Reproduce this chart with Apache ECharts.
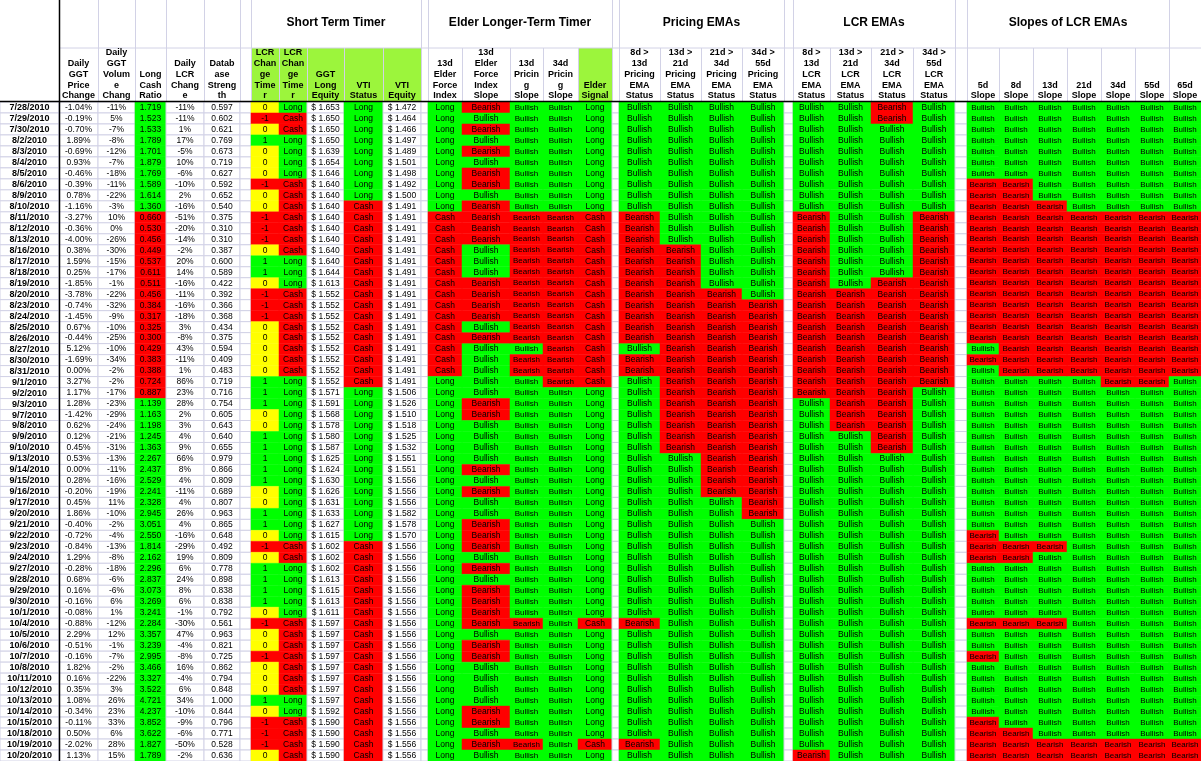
<!DOCTYPE html>
<html>
<head>
<meta charset="utf-8">
<script src="https://cdn.jsdelivr.net/npm/echarts@6/dist/echarts.min.js"></script>
<style>html,body{margin:0;padding:0;background:#fff}#chart{width:1201px;height:761px}</style>
</head>
<body>
<div id="chart"></div>
<script>
const dates = ['7/28/2010','7/29/2010','7/30/2010','8/2/2010','8/3/2010','8/4/2010','8/5/2010','8/6/2010','8/9/2010','8/10/2010',
  '8/11/2010','8/12/2010','8/13/2010','8/16/2010','8/17/2010','8/18/2010','8/19/2010','8/20/2010','8/23/2010','8/24/2010',
  '8/25/2010','8/26/2010','8/27/2010','8/30/2010','8/31/2010','9/1/2010','9/2/2010','9/3/2010','9/7/2010','9/8/2010',
  '9/9/2010','9/10/2010','9/13/2010','9/14/2010','9/15/2010','9/16/2010','9/17/2010','9/20/2010','9/21/2010','9/22/2010',
  '9/23/2010','9/24/2010','9/27/2010','9/28/2010','9/29/2010','9/30/2010','10/1/2010','10/4/2010','10/5/2010','10/6/2010',
  '10/7/2010','10/8/2010','10/11/2010','10/12/2010','10/13/2010','10/14/2010','10/15/2010','10/18/2010','10/19/2010','10/20/2010'];

const priceChg = [-1.04,-0.19,-0.70,1.89,-0.69,0.93,-0.46,-0.39,0.78,-1.16,-3.27,-0.36,-4.00,0.38,1.59,
  0.25,-1.85,-3.78,-0.74,-1.45,0.67,-0.44,5.12,-1.69,0.00,3.27,1.17,1.28,-1.42,0.62,
  0.12,0.45,0.53,0.00,0.28,-0.20,0.45,1.86,-0.40,-0.72,-0.84,1.29,-0.28,0.68,0.16,
  -0.16,-0.08,-0.88,2.29,-0.51,-0.16,1.82,0.16,0.35,1.08,-0.34,-0.11,0.50,-2.02,1.13];
const volChg = [-11,5,-7,-8,-12,-7,-18,-11,-22,-3,10,0,-26,-30,-15,
  -17,-1,-22,-32,-9,-10,-25,-10,-34,-2,-2,-17,-23,-29,-24,
  -21,-31,-13,-11,-16,-19,11,-10,-2,-4,-13,-8,-18,-6,-6,
  6,1,-12,12,-1,-7,-2,-22,3,26,23,33,6,28,15];
const lcr = [1.719,1.523,1.533,1.789,1.701,1.879,1.769,1.589,1.614,1.360,0.660,0.530,0.456,0.449,0.537,
  0.611,0.511,0.456,0.384,0.317,0.325,0.300,0.429,0.383,0.388,0.724,0.887,1.139,1.163,1.198,
  1.245,1.363,2.267,2.437,2.529,2.241,2.328,2.945,3.051,2.550,1.814,2.162,2.296,2.837,3.073,
  3.269,3.241,2.284,3.357,3.239,2.995,3.466,3.327,3.522,4.721,4.237,3.852,3.622,1.827,1.789];
const lcrChg = [-11,-11,1,17,-5,10,-6,-10,2,-16,-51,-20,-14,-2,20,
  14,-16,-11,-16,-18,3,-8,43,-11,1,86,23,28,2,3,
  4,9,66,8,4,-11,4,26,4,-16,-29,19,6,24,8,
  6,-1,-30,47,-4,-8,16,-4,6,34,-10,-9,-6,-50,-2];
const dbStrength = [0.597,0.602,0.621,0.769,0.673,0.719,0.627,0.592,0.652,0.540,0.375,0.310,0.310,0.387,0.600,
  0.589,0.422,0.392,0.366,0.368,0.434,0.375,0.594,0.409,0.483,0.719,0.716,0.754,0.605,0.643,
  0.640,0.655,0.979,0.866,0.809,0.689,0.807,0.963,0.865,0.648,0.492,0.809,0.778,0.898,0.838,
  0.838,0.792,0.561,0.963,0.821,0.725,0.862,0.794,0.848,1.000,0.844,0.796,0.771,0.528,0.636];
const timer = [0,-1,0,1,0,0,0,-1,0,0,-1,-1,-1,0,1,
  1,0,-1,-1,-1,0,0,0,0,0,1,1,1,0,0,
  1,1,1,1,1,0,0,1,1,0,-1,0,1,1,1,
  1,0,-1,0,0,-1,0,0,0,1,0,-1,-1,-1,0];
const timerStatus = '100111100000001' + '110000000011111' + '111111111100111' + '110000000110000';
const ggtEquity = [1.653,1.650,1.650,1.650,1.639,1.654,1.646,1.640,1.640,1.640,1.640,1.640,1.640,1.640,1.640,
  1.644,1.613,1.552,1.552,1.552,1.552,1.552,1.552,1.552,1.552,1.552,1.571,1.591,1.568,1.578,
  1.580,1.587,1.625,1.624,1.630,1.626,1.631,1.633,1.627,1.615,1.602,1.602,1.602,1.613,1.615,
  1.613,1.611,1.597,1.597,1.597,1.597,1.597,1.597,1.597,1.597,1.592,1.590,1.590,1.590,1.590];
const vtiStatus = '111111111' + '00000000000000000' + '11111111111111' + '00000000000000000000';
const vtiEquity = [1.472,1.464,1.466,1.497,1.489,1.501,1.498,1.492,1.500,1.491,1.491,1.491,1.491,1.491,1.491,
  1.491,1.491,1.491,1.491,1.491,1.491,1.491,1.491,1.491,1.491,1.491,1.506,1.526,1.510,1.518,
  1.525,1.532,1.551,1.551,1.556,1.556,1.556,1.582,1.578,1.570,1.556,1.556,1.556,1.556,1.556,
  1.556,1.556,1.556,1.556,1.556,1.556,1.556,1.556,1.556,1.556,1.556,1.556,1.556,1.556,1.556];

// 1 = Bullish / Long (green), 0 = Bearish / Cash (red)
const elderForce   = '1111111111' + '000000000000000' + '11111111111111111111111111111111111';
const elderSlope   = '010101001000011' + '10000101111100' + '111101011000101' + '0000100111100101';
const pricing13    = '1111111111' + '000000000000' + '1' + '00' + '1111111111111111111111' + '0' + '1111111111' + '0' + '1';
const pricing34    = '1111111111' + '0000000000000000' + '1111111111111111111111111111111111';
const elderSignal  = '1111111111' + '0000000000000000' + '111111111111111111111' + '0' + '1111111111' + '0' + '1';
const pEma8_13     = pricing13;
const pEma13_21    = '1111111111111' + '0000000000000000000' + '1111111111111111111111111111';
const pEma21_34    = '11111111111111111' + '0000000000000000000' + '111111111111111111111111';
const pEma34_55    = '111111111111111111' + '00000000000000000000' + '1111111111111111111111';
const lEma8_13     = '1111111111' + '00000000000000000' + '11111111111111111111111111111111' + '0';
const lEma13_21    = '11111111111111111' + '0000000000000' + '111111111111111111111111111111';
const lEma21_34    = '00' + '11111111111111' + '0000000000000000' + '1111111111111111111111111111';
const lEma34_55    = '1111111111' + '0000000000000000' + '1111111111111111111111111111111111';
const slope5  = '1111111' + '000000000000000' + '1' + '0' + '111111111111111' + '000' + '11111' + '0' + '11' + '0' + '11111' + '0000';
const slope8  = '1111111' + '000000000000000000' + '111111111111111' + '00' + '11111' + '0' + '111111111' + '000';
const slope13 = '111111111' + '0000000000000000' + '111111111111111' + '0' + '111111' + '0' + '1111111111' + '00';
const slope21 = '1111111111' + '000000000000000' + '111111111111111111111111111111111' + '00';
const slope34 = '1111111111' + '0000000000000000' + '11111111111111111111111111111111' + '00';
const slope55 = slope34;
const slope65 = slope21;

const GREEN = '#00ff00', RED = '#ff0000', YELLOW = '#ffff00', WHITE = '#ffffff', GRIDC = '#d2d2e6';
const FONT = '8.5px "Liberation Sans", Arial, sans-serif';
const SMALL = '8px "Liberation Sans", Arial, sans-serif';
const BOLD = 'bold 9px "Liberation Sans", Arial, sans-serif';

function flagCol(str, yes, no) {
  return i => str[i] === '1' ? [yes, GREEN] : [no, RED];
}
const columns = [
  { x0: 0, x1: 59, cell: i => [dates[i], WHITE], font: BOLD },
  { x0: 59, x1: 98, cell: i => [priceChg[i].toFixed(2) + '%', WHITE] },
  { x0: 98, x1: 135, cell: i => [volChg[i] + '%', WHITE] },
  { x0: 135, x1: 166, cell: i => [lcr[i].toFixed(3), lcr[i] >= 1 ? GREEN : RED] },
  { x0: 166, x1: 204, cell: i => [lcrChg[i] + '%', WHITE] },
  { x0: 204, x1: 240, cell: i => [dbStrength[i].toFixed(3), WHITE] },
  { x0: 240, x1: 251, cell: () => ['', WHITE] },
  { x0: 251, x1: 279, cell: i => [String(timer[i]), timer[i] > 0 ? GREEN : timer[i] < 0 ? RED : YELLOW] },
  { x0: 279, x1: 307, cell: flagCol(timerStatus, 'Long', 'Cash') },
  { x0: 307, x1: 344, cell: i => ['$ ' + ggtEquity[i].toFixed(3), WHITE] },
  { x0: 344, x1: 383, cell: flagCol(vtiStatus, 'Long', 'Cash') },
  { x0: 383, x1: 421, cell: i => ['$ ' + vtiEquity[i].toFixed(3), WHITE] },
  { x0: 421, x1: 428, cell: () => ['', WHITE] },
  { x0: 428, x1: 462, cell: flagCol(elderForce, 'Long', 'Cash') },
  { x0: 462, x1: 510, cell: flagCol(elderSlope, 'Bullish', 'Bearish') },
  { x0: 510, x1: 543, cell: flagCol(pricing13, 'Bullish', 'Bearish'), font: SMALL },
  { x0: 543, x1: 578, cell: flagCol(pricing34, 'Bullish', 'Bearish'), font: SMALL },
  { x0: 578, x1: 612, cell: flagCol(elderSignal, 'Long', 'Cash') },
  { x0: 612, x1: 619, cell: () => ['', WHITE] },
  { x0: 619, x1: 660, cell: flagCol(pEma8_13, 'Bullish', 'Bearish') },
  { x0: 660, x1: 701, cell: flagCol(pEma13_21, 'Bullish', 'Bearish') },
  { x0: 701, x1: 742, cell: flagCol(pEma21_34, 'Bullish', 'Bearish') },
  { x0: 742, x1: 784, cell: flagCol(pEma34_55, 'Bullish', 'Bearish') },
  { x0: 784, x1: 793, cell: () => ['', WHITE] },
  { x0: 793, x1: 830, cell: flagCol(lEma8_13, 'Bullish', 'Bearish') },
  { x0: 830, x1: 871, cell: flagCol(lEma13_21, 'Bullish', 'Bearish') },
  { x0: 871, x1: 913, cell: flagCol(lEma21_34, 'Bullish', 'Bearish') },
  { x0: 913, x1: 955, cell: flagCol(lEma34_55, 'Bullish', 'Bearish') },
  { x0: 955, x1: 967, cell: () => ['', WHITE] },
  { x0: 967, x1: 999, cell: flagCol(slope5, 'Bullish', 'Bearish'), font: SMALL },
  { x0: 999, x1: 1033, cell: flagCol(slope8, 'Bullish', 'Bearish'), font: SMALL },
  { x0: 1033, x1: 1067, cell: flagCol(slope13, 'Bullish', 'Bearish'), font: SMALL },
  { x0: 1067, x1: 1101, cell: flagCol(slope21, 'Bullish', 'Bearish'), font: SMALL },
  { x0: 1101, x1: 1135, cell: flagCol(slope34, 'Bullish', 'Bearish'), font: SMALL },
  { x0: 1135, x1: 1169, cell: flagCol(slope55, 'Bullish', 'Bearish'), font: SMALL },
  { x0: 1169, x1: 1201, cell: flagCol(slope65, 'Bullish', 'Bearish'), font: SMALL }
];

const cells = [];
columns.forEach(col => {
  dates.forEach((d, i) => {
    const [text, fill] = col.cell(i);
    cells.push({ value: [col.x0, col.x1, i], text, fill, font: col.font || FONT });
  });
});

// header texts
const headers = [
  [59, 98, ['Daily', 'GGT', 'Price', 'Change']],
  [98, 135, ['Daily', 'GGT', 'Volum', 'e', 'Chang']],
  [135, 166, ['Long', 'Cash', 'Ratio']],
  [166, 204, ['Daily', 'LCR', 'Chang', 'e']],
  [204, 240, ['Datab', 'ase', 'Streng', 'th']],
  [251, 279, ['LCR', 'Chan', 'ge', 'Time', 'r']],
  [279, 307, ['LCR', 'Chan', 'ge', 'Time', 'r']],
  [307, 344, ['GGT', 'Long', 'Equity']],
  [344, 383, ['VTI', 'Status']],
  [383, 421, ['VTI', 'Equity']],
  [428, 462, ['13d', 'Elder', 'Force', 'Index']],
  [462, 510, ['13d', 'Elder', 'Force', 'Index', 'Slope']],
  [510, 543, ['13d', 'Pricin', 'g', 'Slope']],
  [543, 578, ['34d', 'Pricin', 'g', 'Slope']],
  [578, 612, ['Elder', 'Signal']],
  [619, 660, ['8d >', '13d', 'Pricing', 'EMA', 'Status']],
  [660, 701, ['13d >', '21d', 'Pricing', 'EMA', 'Status']],
  [701, 742, ['21d >', '34d', 'Pricing', 'EMA', 'Status']],
  [742, 784, ['34d >', '55d', 'Pricing', 'EMA', 'Status']],
  [793, 830, ['8d >', '13d', 'LCR', 'EMA', 'Status']],
  [830, 871, ['13d >', '21d', 'LCR', 'EMA', 'Status']],
  [871, 913, ['21d >', '34d', 'LCR', 'EMA', 'Status']],
  [913, 955, ['34d >', '55d', 'LCR', 'EMA', 'Status']],
  [967, 999, ['5d', 'Slope']],
  [999, 1033, ['8d', 'Slope']],
  [1033, 1067, ['13d', 'Slope']],
  [1067, 1101, ['21d', 'Slope']],
  [1101, 1135, ['34d', 'Slope']],
  [1135, 1169, ['55d', 'Slope']],
  [1169, 1201, ['65d', 'Slope']]
];
const groups = [
  ['Short Term Timer', 251, 421],
  ['Elder Longer-Term Timer', 428, 612],
  ['Pricing EMAs', 619, 784],
  ['LCR EMAs', 793, 955],
  ['Slopes of LCR EMAs', 967, 1169]
];

const graphics = [];
graphics.push({ type: 'rect', shape: { x: 251, y: 48, width: 170, height: 53 }, style: { fill: '#9cf53c' } });
graphics.push({ type: 'rect', shape: { x: 578, y: 48, width: 34, height: 53 }, style: { fill: '#9cf53c' } });
graphics.push({ type: 'line', shape: { x1: 59, y1: 48, x2: 1201, y2: 48 }, style: { stroke: GRIDC } });
const vlines = [98, 135, 166, 204, 240, 251, 279, 307, 344, 383, 421, 428, 462, 510, 543, 578, 612, 619, 660, 701, 742, 784, 793, 830, 871, 913, 955, 967, 999, 1033, 1067, 1101, 1135, 1169];
const topLines = [98, 135, 166, 204, 240, 251, 421, 428, 612, 619, 784, 793, 955, 967, 1169];
vlines.forEach(x => graphics.push({ type: 'line', shape: { x1: x + 0.5, y1: 48, x2: x + 0.5, y2: 101 }, style: { stroke: GRIDC } }));
topLines.forEach(x => graphics.push({ type: 'line', shape: { x1: x + 0.5, y1: 0, x2: x + 0.5, y2: 48 }, style: { stroke: GRIDC } }));
headers.forEach(([x0, x1, lines]) => {
  lines.forEach((t, k) => {
    graphics.push({ type: 'text', x: (x0 + x1) / 2, y: 96 - (lines.length - 1 - k) * 10.8,
      style: { text: t, font: BOLD, fill: '#000', align: 'center', verticalAlign: 'middle' } });
  });
});
groups.forEach(([t, x0, x1]) => {
  graphics.push({ type: 'text', x: (x0 + x1) / 2, y: 23,
    style: { text: t, font: 'bold 12px "Liberation Sans", Arial, sans-serif', fill: '#000', align: 'center', verticalAlign: 'middle' } });
});
graphics.push({ type: 'line', shape: { x1: 0, y1: 101.5, x2: 1201, y2: 101.5 }, style: { stroke: '#000', lineWidth: 1.5 }, z: 100 });
graphics.push({ type: 'line', shape: { x1: 59.5, y1: 0, x2: 59.5, y2: 761 }, style: { stroke: '#000', lineWidth: 1.5 }, z: 100 });

const chart = echarts.init(document.getElementById('chart'));
chart.setOption({
  animation: false,
  grid: { left: 0, right: 0, top: 102, bottom: 0 },
  xAxis: { type: 'value', min: 0, max: 1201, show: false },
  yAxis: { type: 'category', data: dates, inverse: true, show: false },
  graphic: graphics,
  series: [{
    type: 'custom',
    data: cells,
    encode: { x: [0, 1], y: 2 },
    renderItem: function (params, api) {
      const c = cells[params.dataIndex];
      const p0 = api.coord([api.value(0), api.value(2)]);
      const p1 = api.coord([api.value(1), api.value(2)]);
      const h = api.size([0, 1])[1];
      const y = p0[1] - h / 2;
      const white = c.fill === WHITE;
      return {
        type: 'group',
        children: [
          { type: 'rect', shape: { x: p0[0], y: y, width: p1[0] - p0[0], height: h },
            style: { fill: c.fill, stroke: white ? GRIDC : c.fill, lineWidth: white ? 1 : 0.5 } },
          { type: 'text', style: { text: c.text, x: (p0[0] + p1[0]) / 2, y: p0[1], font: c.font,
            fill: '#000', align: 'center', verticalAlign: 'middle' } }
        ]
      };
    }
  }]
});
</script>
</body>
</html>
